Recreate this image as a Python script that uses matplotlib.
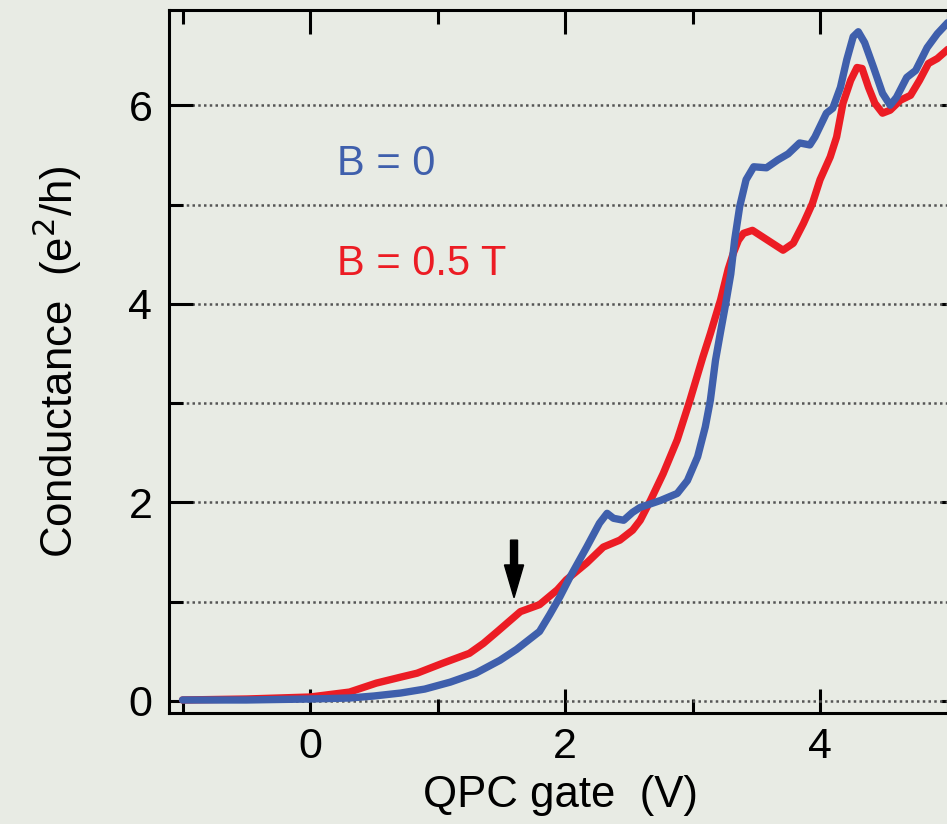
import numpy as np
import matplotlib
matplotlib.use("Agg")
import matplotlib.pyplot as plt

plt.rcParams['font.family'] = ['Liberation Sans', 'DejaVu Sans']

# B = 0 (azul)
gate_b0 = [-1.0, -0.5, 0.0, 0.31, 0.5, 0.71, 0.9, 1.1, 1.3, 1.49, 1.62, 1.73, 1.8,
           1.88, 1.96, 2.04, 2.17, 2.27, 2.33, 2.38, 2.46, 2.53, 2.59, 2.75, 2.88,
           2.96, 3.04, 3.10, 3.14, 3.18, 3.22, 3.26, 3.30, 3.33, 3.37, 3.42, 3.48,
           3.58, 3.67, 3.75, 3.84, 3.92, 3.96, 4.05, 4.10, 4.16, 4.21, 4.26, 4.30,
           4.35, 4.42, 4.49, 4.55, 4.60, 4.68, 4.75, 4.84, 4.92, 5.0, 5.04]
g_b0 = [0.01, 0.01, 0.02, 0.03, 0.05, 0.08, 0.12, 0.19, 0.28, 0.41, 0.52, 0.63, 0.7,
        0.87, 1.05, 1.25, 1.55, 1.79, 1.89, 1.84, 1.82, 1.90, 1.95, 2.02, 2.09,
        2.22, 2.46, 2.76, 3.03, 3.43, 3.72, 4.0, 4.3, 4.64, 4.98, 5.25, 5.38,
        5.37, 5.45, 5.51, 5.62, 5.6, 5.68, 5.92, 5.97, 6.18, 6.46, 6.69, 6.74,
        6.63, 6.38, 6.12, 6.0, 6.08, 6.28, 6.35, 6.58, 6.72, 6.83, 6.86]

# B = 0.5 T (rojo)
gate_b05 = [-1.0, -0.5, 0.0, 0.31, 0.52, 0.71, 0.84, 1.04, 1.25, 1.36, 1.47, 1.56,
            1.65, 1.8, 1.94, 2.01, 2.17, 2.3, 2.43, 2.53, 2.59, 2.67, 2.77, 2.88,
            2.98, 3.08, 3.14, 3.22, 3.28, 3.32, 3.36, 3.40, 3.47, 3.59, 3.71, 3.79,
            3.87, 3.94, 4.0, 4.08, 4.13, 4.18, 4.24, 4.29, 4.33, 4.38, 4.43, 4.49,
            4.55, 4.63, 4.71, 4.78, 4.85, 4.92, 5.0, 5.04]
g_b05 = [0.01, 0.02, 0.04, 0.09, 0.18, 0.24, 0.28, 0.38, 0.48, 0.58, 0.70, 0.80,
         0.9, 0.97, 1.12, 1.22, 1.39, 1.55, 1.62, 1.72, 1.82, 2.02, 2.29, 2.63,
         3.03, 3.46, 3.70, 4.04, 4.35, 4.51, 4.64, 4.71, 4.74, 4.64, 4.54, 4.61,
         4.81, 5.01, 5.25, 5.48, 5.68, 6.02, 6.25, 6.38, 6.37, 6.18, 6.02, 5.92,
         5.95, 6.05, 6.10, 6.25, 6.42, 6.47, 6.56, 6.6]

fondo = '#e8ebe4'
azul = '#3f5fac'
rojo = '#ec1c24'

fig = plt.figure(figsize=(9.47, 8.24), dpi=100, facecolor=fondo)
ax = fig.add_axes([169/947, 1-713/824, (952-169)/947, (713-10)/824])
ax.set_facecolor(fondo)

ax.plot(gate_b05, g_b05, color=rojo, lw=5.3, solid_joinstyle='round', solid_capstyle='round')
ax.plot(gate_b0, g_b0, color=azul, lw=5.3, solid_joinstyle='round', solid_capstyle='round')

ax.set_xlim(-1.106, 5.035)
ax.set_ylim(-0.121, 6.959)

ax.set_xticks([0, 2, 4])
ax.set_xticks([-1, 1, 3, 5], minor=True)
ax.set_yticks([0, 2, 4, 6])
ax.set_yticks([1, 3, 5], minor=True)

ax.grid(axis='y', which='both', color='#555555', lw=1.8, linestyle=(0, (1, 1.3)))
ax.set_axisbelow(True)

for s in ax.spines.values():
    s.set_linewidth(2.2)
ax.tick_params(which='both', direction='in', width=2.2, top=True, right=False,
               labelsize=31, pad=10)
ax.tick_params(which='major', length=17.5)
ax.tick_params(which='minor', length=10)
ax.tick_params(axis='y', pad=12)

sec = ax.secondary_yaxis('right')
sec.set_yticks([0, 2, 4, 6])
sec.tick_params(direction='in', length=8, width=2.2, labelright=False)
sec.spines['right'].set_linewidth(2.2)

ax.set_xlabel('QPC gate  (V)', fontsize=31.5, labelpad=6)
ax.set_ylabel('Conductance  (e$^2$/h)', fontsize=31.5, labelpad=32)

ax.text(0.21, 5.3, 'B = 0', color=azul, fontsize=30, ha='left', va='baseline')
ax.text(0.21, 4.29, 'B = 0.5 T', color=rojo, fontsize=30, ha='left', va='baseline')

# flecha
ax.arrow(1.6, 1.62, 0, -0.58, width=0.055, head_width=0.15, head_length=0.33,
         length_includes_head=True, color='black', zorder=5)

fig.savefig('out.png', dpi=100, facecolor=fondo)
